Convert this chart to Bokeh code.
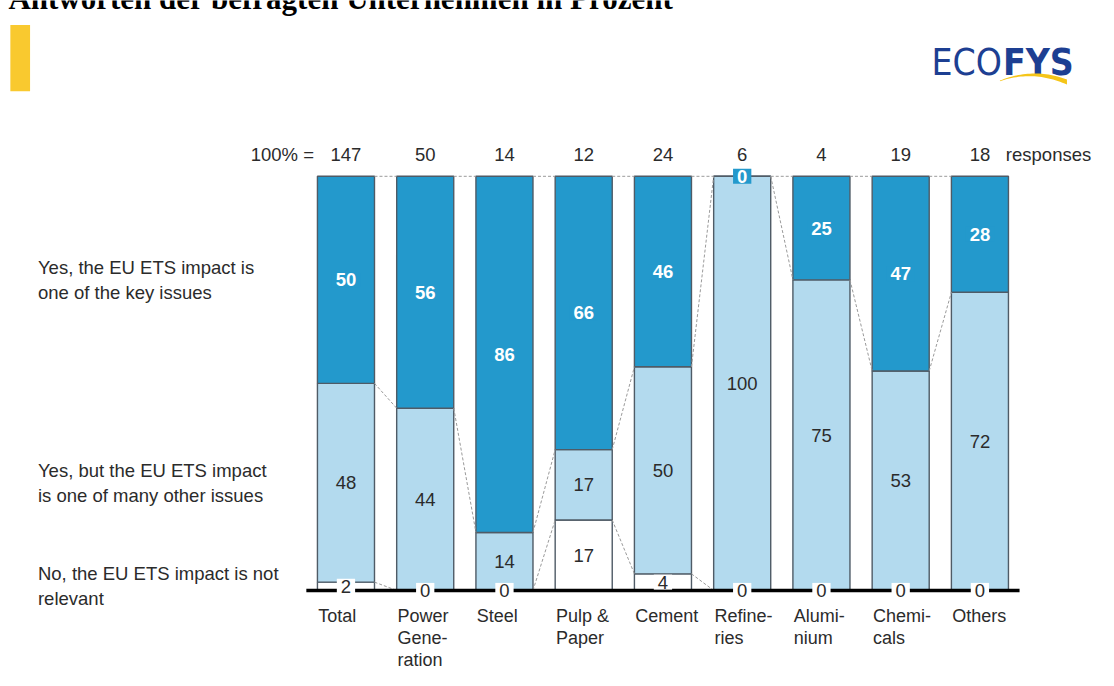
import numpy as np
from bokeh.plotting import figure
from bokeh.models import Range1d, ColumnDataSource
from bokeh.core.properties import value
from bokeh.embed import file_html
from bokeh.resources import INLINE

# ---------------- data ----------------
categories = ["Total", "Power\nGene-\nration", "Steel", "Pulp &\nPaper", "Cement",
              "Refine-\nries", "Alumi-\nnium", "Chemi-\ncals", "Others"]
responses = [147, 50, 14, 12, 24, 6, 4, 19, 18]
key_issue = [50, 56, 86, 66, 46, 0, 25, 47, 28]
many_issues = [48, 44, 14, 17, 50, 100, 75, 53, 72]
not_relevant = [2, 0, 0, 17, 4, 0, 0, 0, 0]
series_labels = ["Yes, the EU ETS impact is\none of the key issues",
                 "Yes, but the EU ETS impact\nis one of many other issues",
                 "No, the EU ETS impact is not\nrelevant"]
title_text = "Antworten der befragten Unternehmen in Prozent"

# ---------------- layout ----------------
W, H = 1098, 670            # figure size (fits the window)
REF_W, REF_H = 1114, 686    # design space
X0, DX = 350.5, 80.4        # design px of first bar centre, px per category
Y0, DY = 604.0, 4.24        # design px of 0 %, px per percent
BAR_W = 0.72


def fx(px):
    return (px - X0) / DX


def fy(py):
    return (Y0 - py) / DY


DARK = "#2399cc"
LIGHT = "#b3daee"
OUTLINE = "#4f5b66"
TXT = "#2b2b2b"
FONT = value("Liberation Sans")
FS = "18.5px"

p = figure(width=W, height=H, x_range=Range1d(fx(0), fx(REF_W)),
           y_range=Range1d(fy(REF_H), fy(0)),
           output_backend="svg", toolbar_location=None, min_border=0,
           x_axis_type=None, y_axis_type=None)
p.outline_line_color = None
p.background_fill_color = "white"
p.border_fill_color = "white"

n = len(categories)
x = np.arange(n)
no = np.array(not_relevant, dtype=float)
many = np.array(many_issues, dtype=float)
key = np.array(key_issue, dtype=float)
b1 = no
b2 = no + many
tp = b2 + key

src = ColumnDataSource(dict(
    x=x, b0=np.zeros(n), b1=b1, b2=b2, tp=tp,
    key_mid=(b2 + tp) / 2, many_mid=(b1 + b2) / 2, no_mid=b1 / 2,
    key_txt=[str(v) for v in key_issue], many_txt=[str(v) for v in many_issues],
    no_txt=[str(v) for v in not_relevant],
    resp=[str(v) for v in responses], cat=categories,
    cat_x=x - BAR_W / 2 + 0.01, resp_y=np.full(n, fy(158)), cat_y=np.full(n, fy(620)),
))

# bars
p.vbar(x="x", bottom="b0", top="b1", width=BAR_W, source=src, fill_color="white",
       line_color=OUTLINE, line_width=1.4)
p.vbar(x="x", bottom="b1", top="b2", width=BAR_W, source=src, fill_color=LIGHT,
       line_color=OUTLINE, line_width=1.4)
p.vbar(x="x", bottom="b2", top="tp", width=BAR_W, source=src, fill_color=DARK,
       line_color=OUTLINE, line_width=1.4)

# dotted connectors between neighbouring bars
cx0, cy0, cx1, cy1 = [], [], [], []
for arr in (b1, b2, tp):
    for i in range(n - 1):
        cx0.append(x[i] + BAR_W / 2)
        cy0.append(arr[i])
        cx1.append(x[i + 1] - BAR_W / 2)
        cy1.append(arr[i + 1])
p.segment(x0=cx0, y0=cy0, x1=cx1, y1=cy1, line_color="#9a9a9a", line_width=1,
          line_dash="3 2")

# baseline
p.line(x=[-0.5, n - 0.5], y=[0, 0], line_color="black", line_width=3.5)

# value labels
p.text(x="x", y="key_mid", text="key_txt", source=src, text_align="center",
       text_baseline="middle", text_color="white", text_font=FONT,
       text_font_style="bold", text_font_size=FS,
       background_fill_color=DARK, padding=dict(left=4, right=4, top=1, bottom=1))
p.text(x="x", y="many_mid", text="many_txt", source=src, text_align="center",
       text_baseline="middle", text_color=TXT, text_font=FONT, text_font_size=FS)
p.text(x="x", y="no_mid", text="no_txt", source=src, text_align="center",
       text_baseline="middle", text_color=TXT, text_font=FONT, text_font_size=FS,
       background_fill_color="white", padding=dict(left=4, right=4, top=1, bottom=1))

# response counts
p.text(x="x", y="resp_y", text="resp", source=src, text_align="center",
       text_baseline="middle", text_color=TXT, text_font=FONT, text_font_size=FS)
p.text(x=[fx(318)], y=[fy(158)], text=["100% ="], text_align="right",
       text_baseline="middle", text_color=TXT, text_font=FONT, text_font_size=FS)
p.text(x=[fx(1020)], y=[fy(158)], text=["responses"], text_align="left",
       text_baseline="middle", text_color=TXT, text_font=FONT, text_font_size=FS)

# category labels
p.text(x="cat_x", y="cat_y", text="cat", source=src, text_align="left",
       text_baseline="top", text_color=TXT, text_font=FONT, text_font_size="18px",
       text_line_height=1.1)

# series labels on the left (aligned with the Total bar's segments)
lab_y = [(b2[0] + tp[0]) / 2, (b1[0] + b2[0]) / 2, b1[0] / 2]
p.text(x=[fx(38)] * 3, y=lab_y, text=series_labels, text_align="left",
       text_baseline="middle", text_color=TXT, text_font=FONT, text_font_size=FS,
       text_line_height=1.2)

# clipped title at the very top
p.text(x=[fx(8)], y=[fy(-2)], text=[title_text], text_align="left",
       text_baseline="alphabetic", text_color="black", text_font=value("Liberation Serif"),
       text_font_style="bold", text_font_size="31px")

# yellow marker
p.quad(left=[fx(10)], right=[fx(30)], top=[fy(25)], bottom=[fy(93)],
       fill_color="#f9c92f", line_color=None)

# logo
p.text(x=[fx(1016)], y=[fy(63)], text=["ECO"], text_align="right",
       text_baseline="alphabetic", text_color="#1d3f92",
       text_font=value("DejaVu Sans Condensed"), text_font_size="37px")
p.text(x=[fx(1017)], y=[fy(63)], text=["FYS"], text_align="left",
       text_baseline="alphabetic", text_color="#1d3f92",
       text_font=value("DejaVu Sans Condensed"), text_font_style="bold",
       text_font_size="37px")
t = np.linspace(0, 1, 30)
sx = 1014 + 68 * t
sy_up = (1 - t) ** 2 * 82 + 2 * (1 - t) * t * 68 + t ** 2 * 81
sy_lo = sy_up + 0.6 + 4.5 * t
px_ = np.concatenate([sx, sx[::-1]])
py_ = np.concatenate([sy_up, sy_lo[::-1]])
p.patch(x=fx(px_), y=fy(py_), fill_color="#f5c518", line_color=None)

open("out.html", "w").write(file_html(p, INLINE))
